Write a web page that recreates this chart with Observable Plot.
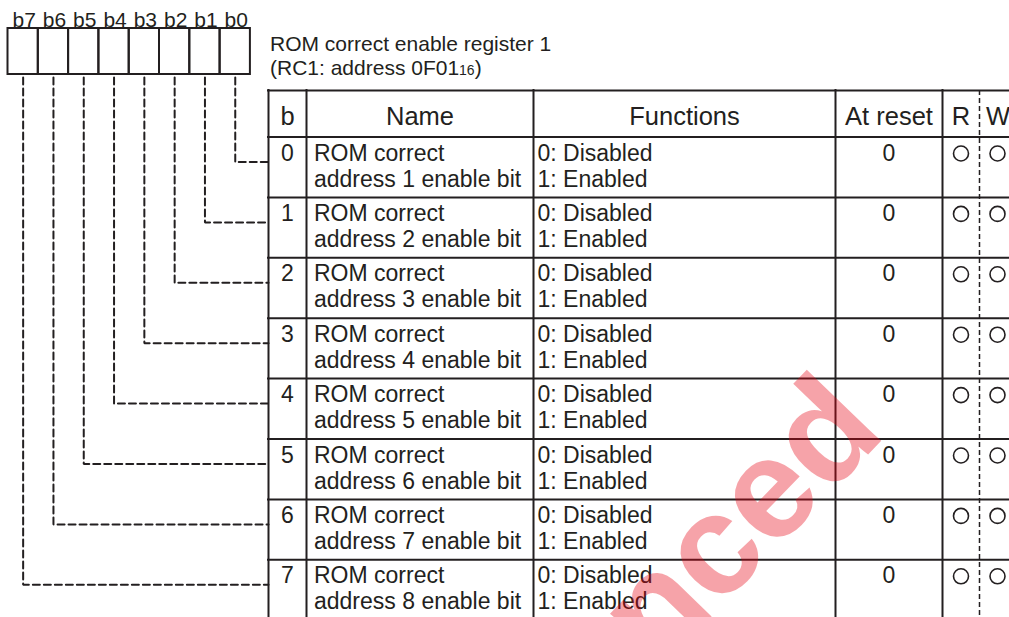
<!DOCTYPE html>
<html>
<head>
<meta charset="utf-8">
<script src="https://cdn.jsdelivr.net/npm/d3@7"></script>
<script src="https://cdn.jsdelivr.net/npm/@observablehq/plot@0.6"></script>
<style>
html, body { margin: 0; padding: 0; background: #fff; overflow: hidden; }
#chart svg { display: block; }
</style>
</head>
<body>
<div id="chart"></div>
<script>
// ---------- content ----------
const bitLabels = ["b7", "b6", "b5", "b4", "b3", "b2", "b1", "b0"];
const bits = [0, 1, 2, 3, 4, 5, 6, 7];
const nameLine1 = ["ROM correct", "ROM correct", "ROM correct", "ROM correct",
                   "ROM correct", "ROM correct", "ROM correct", "ROM correct"];
const nameLine2 = ["address 1 enable bit", "address 2 enable bit", "address 3 enable bit",
                   "address 4 enable bit", "address 5 enable bit", "address 6 enable bit",
                   "address 7 enable bit", "address 8 enable bit"];
const functionLine1 = ["0: Disabled", "0: Disabled", "0: Disabled", "0: Disabled",
                       "0: Disabled", "0: Disabled", "0: Disabled", "0: Disabled"];
const functionLine2 = ["1: Enabled", "1: Enabled", "1: Enabled", "1: Enabled",
                       "1: Enabled", "1: Enabled", "1: Enabled", "1: Enabled"];
const resetValues = ["0", "0", "0", "0", "0", "0", "0", "0"];
const readable = [true, true, true, true, true, true, true, true];
const writable = [true, true, true, true, true, true, true, true];
const headers = ["b", "Name", "Functions", "At reset", "R", "W"];
const titleLine1 = "ROM correct enable register 1";
const titleLine2 = "(RC1: address 0F01";
const titleSub = "16";
const titleEnd = ")";
const watermark = "nced";

// ---------- layout ----------
const W = 1009, H = 617;
const regLeft = 7.5, regCell = 30.3, regTop = 28, regBottom = 74;
const colEdges = [268, 306, 533, 835, 942, 979, 1016];
const tableTop = 90, headBottom = 136.5, rowH = 60.4;
const ink = "#231f20";
const font = "'Liberation Sans', Arial, Helvetica, sans-serif";
const bodySize = 23, headSize = 25.5, titleSize = 21, subSize = 14;

const rowTop = b => headBottom + b * rowH;
const cellCenter = i => regLeft + regCell * (i + 0.5);
const colMid = k => (colEdges[k] + colEdges[k + 1]) / 2;

// measure text for the subscript placement
const ctx = document.createElement("canvas").getContext("2d");
ctx.font = `${titleSize}px 'Liberation Sans'`;
const line2W = ctx.measureText(titleLine2).width;
ctx.font = `${subSize}px 'Liberation Sans'`;
const subW = ctx.measureText(titleSub).width;
const titleX = 269.5;

// derived tables
const regCells = bitLabels.map((label, i) => ({label, i}));
const connectors = bits.flatMap(b => {
  const i = 7 - b;
  const yc = rowTop(b) + 25;
  return [
    {b, x: cellCenter(i), y: regBottom + 3},
    {b, x: cellCenter(i), y: yc},
    {b, x: colEdges[0], y: yc}
  ];
});
const hLines = [tableTop, headBottom, ...bits.map(b => rowTop(b + 1))];
const solidCols = colEdges.filter((_, k) => k !== 5);
const rows = bits.map(b => ({
  b, top: rowTop(b),
  n1: nameLine1[b], n2: nameLine2[b],
  f1: functionLine1[b], f2: functionLine2[b],
  reset: resetValues[b], r: readable[b], w: writable[b]
}));
const headerCells = headers.map((h, k) => ({h, k}));

const textBase = {fill: ink, lineAnchor: "bottom", fontFamily: font};

const chart = Plot.plot({
  width: W,
  height: H,
  margin: 0,
  x: {type: "linear", domain: [0, W], range: [0, W], axis: null},
  y: {type: "linear", domain: [0, H], range: [0, H], axis: null},
  style: {fontFamily: font, background: "#fff", color: ink},
  marks: [
    // register boxes
    Plot.rect(regCells, {
      x1: d => regLeft + regCell * d.i, x2: d => regLeft + regCell * (d.i + 1),
      y1: () => regTop, y2: () => regBottom,
      fill: "none", stroke: ink, strokeWidth: 2
    }),
    Plot.text(regCells, {
      x: d => cellCenter(d.i) + 1, y: () => regTop - 2, text: "label",
      fontSize: titleSize, textAnchor: "middle", ...textBase
    }),
    // dashed connectors
    Plot.line(connectors, {
      x: "x", y: "y", z: "b", stroke: ink, strokeWidth: 2,
      strokeDasharray: "7,4", strokeLinejoin: "miter"
    }),
    // title
    Plot.text([titleLine1], {
      x: () => titleX, y: () => 50.5, text: d => d, fontSize: titleSize,
      textAnchor: "start", ...textBase
    }),
    Plot.text([titleLine2], {
      x: () => titleX, y: () => 74.5, text: d => d, fontSize: titleSize,
      textAnchor: "start", ...textBase
    }),
    Plot.text([titleSub], {
      x: () => titleX + line2W, y: () => 74.5, text: d => d, fontSize: subSize,
      textAnchor: "start", ...textBase
    }),
    Plot.text([titleEnd], {
      x: () => titleX + line2W + subW, y: () => 74.5, text: d => d, fontSize: titleSize,
      textAnchor: "start", ...textBase
    }),
    // table grid
    Plot.ruleY(hLines, {y: d => d, x1: () => colEdges[0] - 1, x2: () => W + 10, stroke: ink, strokeWidth: 2}),
    Plot.ruleX(solidCols, {x: d => d, y1: () => tableTop - 1, y2: () => H + 10, stroke: ink, strokeWidth: 2}),
    Plot.ruleX([colEdges[5]], {x: d => d, y1: () => tableTop, y2: () => H + 10, stroke: ink,
      strokeWidth: 1.5, strokeDasharray: "5,3"}),
    // headers
    Plot.text(headerCells, {
      x: d => colMid(d.k), y: () => 124.5, text: "h", fontSize: headSize,
      textAnchor: "middle", ...textBase
    }),
    // rows
    Plot.text(rows, {
      x: () => colMid(0), y: d => d.top + 23.5, text: d => String(d.b), fontSize: bodySize,
      textAnchor: "middle", ...textBase
    }),
    Plot.text(rows, {
      x: () => colEdges[1] + 7.5, y: d => d.top + 23.5, text: "n1", fontSize: bodySize,
      textAnchor: "start", ...textBase
    }),
    Plot.text(rows, {
      x: () => colEdges[1] + 7.5, y: d => d.top + 49.5, text: "n2", fontSize: bodySize,
      textAnchor: "start", ...textBase
    }),
    Plot.text(rows, {
      x: () => colEdges[2] + 4, y: d => d.top + 23.5, text: "f1", fontSize: bodySize,
      textAnchor: "start", ...textBase
    }),
    Plot.text(rows, {
      x: () => colEdges[2] + 4, y: d => d.top + 49.5, text: "f2", fontSize: bodySize,
      textAnchor: "start", ...textBase
    }),
    Plot.text(rows, {
      x: () => colMid(3), y: d => d.top + 23.5, text: "reset", fontSize: bodySize,
      textAnchor: "middle", ...textBase
    }),
    Plot.dot(rows.filter(d => d.r), {
      x: () => colMid(4), y: d => d.top + 16.5, r: 7.5, stroke: ink, strokeWidth: 1.6, fill: "none"
    }),
    Plot.dot(rows.filter(d => d.w), {
      x: () => colMid(5) - 0.5, y: d => d.top + 16.5, r: 7.5, stroke: ink, strokeWidth: 1.6, fill: "none"
    }),
    // watermark
    Plot.text([watermark], {
      x: () => 657, y: () => 672, text: d => d, rotate: -46, fontSize: 142,
      fontWeight: "bold", fill: "#e60012", fillOpacity: 0.36,
      textAnchor: "start", lineAnchor: "bottom", fontFamily: font
    })
  ]
});
document.getElementById("chart").appendChild(chart);
</script>
</body>
</html>
